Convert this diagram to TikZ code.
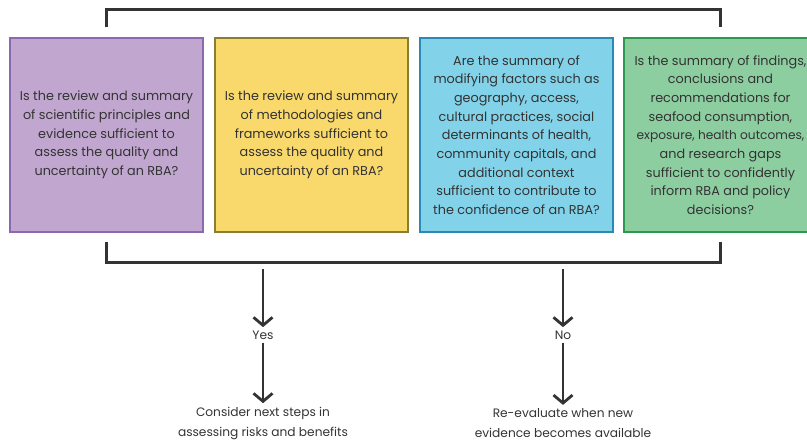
\documentclass[tikz,border=0pt]{standalone}
\usepackage{fontspec}
\setmainfont{Poppins}
\usetikzlibrary{arrows.meta}

\definecolor{purplefill}{HTML}{C1A7D0}
\definecolor{purpleline}{HTML}{8B68B0}
\definecolor{yellowfill}{HTML}{FAD96C}
\definecolor{yellowline}{HTML}{8C7D30}
\definecolor{bluefill}{HTML}{82D3EA}
\definecolor{blueline}{HTML}{2A8AB5}
\definecolor{greenfill}{HTML}{8DCEA0}
\definecolor{greenline}{HTML}{2A9A50}
\definecolor{darkline}{HTML}{333333}

\tikzset{
  qbox/.style={draw, line width=1.5pt, minimum width=193pt, minimum height=194pt,
    align=center, inner sep=0pt, text=darkline,
    font=\fontsize{12.8}{18.7}\selectfont},
  bracket/.style={draw=darkline, line width=3pt},
  downarrow/.style={draw=darkline, line width=2.8pt, -{Straight Barb[length=8pt,width=19pt]}},
  answer/.style={text=darkline, align=center, font=\fontsize{12.2}{20}\selectfont}
}

\begin{document}
\begin{tikzpicture}[x=1pt,y=-1pt]

\useasboundingbox (0,0) rectangle (807,445);
\clip (0,0) rectangle (807,445);

    % The four questions
\node[qbox, fill=purplefill, draw=purpleline] (b1) at (106.5,135) {Is the review and summary\\of scientific principles and\\evidence sufficient to\\assess the quality and\\uncertainty of an RBA?};
\node[qbox, fill=yellowfill, draw=yellowline] (b2) at (311.5,135) {Is the review and summary\\of methodologies and\\frameworks sufficient to\\assess the quality and\\uncertainty of an RBA?};
\node[qbox, fill=bluefill, draw=blueline] (b3) at (516.5,135) {Are the summary of\\modifying factors such as\\geography, access,\\cultural practices, social\\determinants of health,\\community capitals, and\\additional context\\sufficient to contribute to\\the confidence of an RBA?};
\node[qbox, fill=greenfill, draw=greenline] (b4) at (720.5,135) {Is the summary of findings,\\conclusions and\\recommendations for\\seafood consumption,\\{\fontsize{12.2}{18.7}\selectfont exposure, health outcomes,}\\and research gaps\\sufficient to confidently\\inform RBA and policy\\decisions?};

    % Brackets above and below
\draw[bracket] ([yshift=10pt]b1.north) -- ([yshift=28pt]b1.north) -- ([yshift=28pt]b4.north) -- ([yshift=10pt]b4.north);
\draw[bracket] ([yshift=-9pt]b1.south) -- ([yshift=-30pt]b1.south) -- ([yshift=-30pt]b4.south) -- ([yshift=-9pt]b4.south);

    % Answers
\coordinate (yesstart) at (263,269);
\coordinate (nostart) at (563,269);
\node[answer] (yes) at (263,335) {Yes};
\node[answer] (no) at (563,335) {No};
\node[answer] (yesnext) at (263,423) {Consider next steps in\\assessing risks and benefits};
\node[answer] (nonext) at (563,423) {Re-evaluate when new\\evidence becomes available};

\draw[downarrow] (yesstart) -- (yes.north);
\draw[downarrow] (yes.south) -- (yesnext.north);
\draw[downarrow] (nostart) -- (no.north);
\draw[downarrow] (no.south) -- (nonext.north);

\end{tikzpicture}
\end{document}
